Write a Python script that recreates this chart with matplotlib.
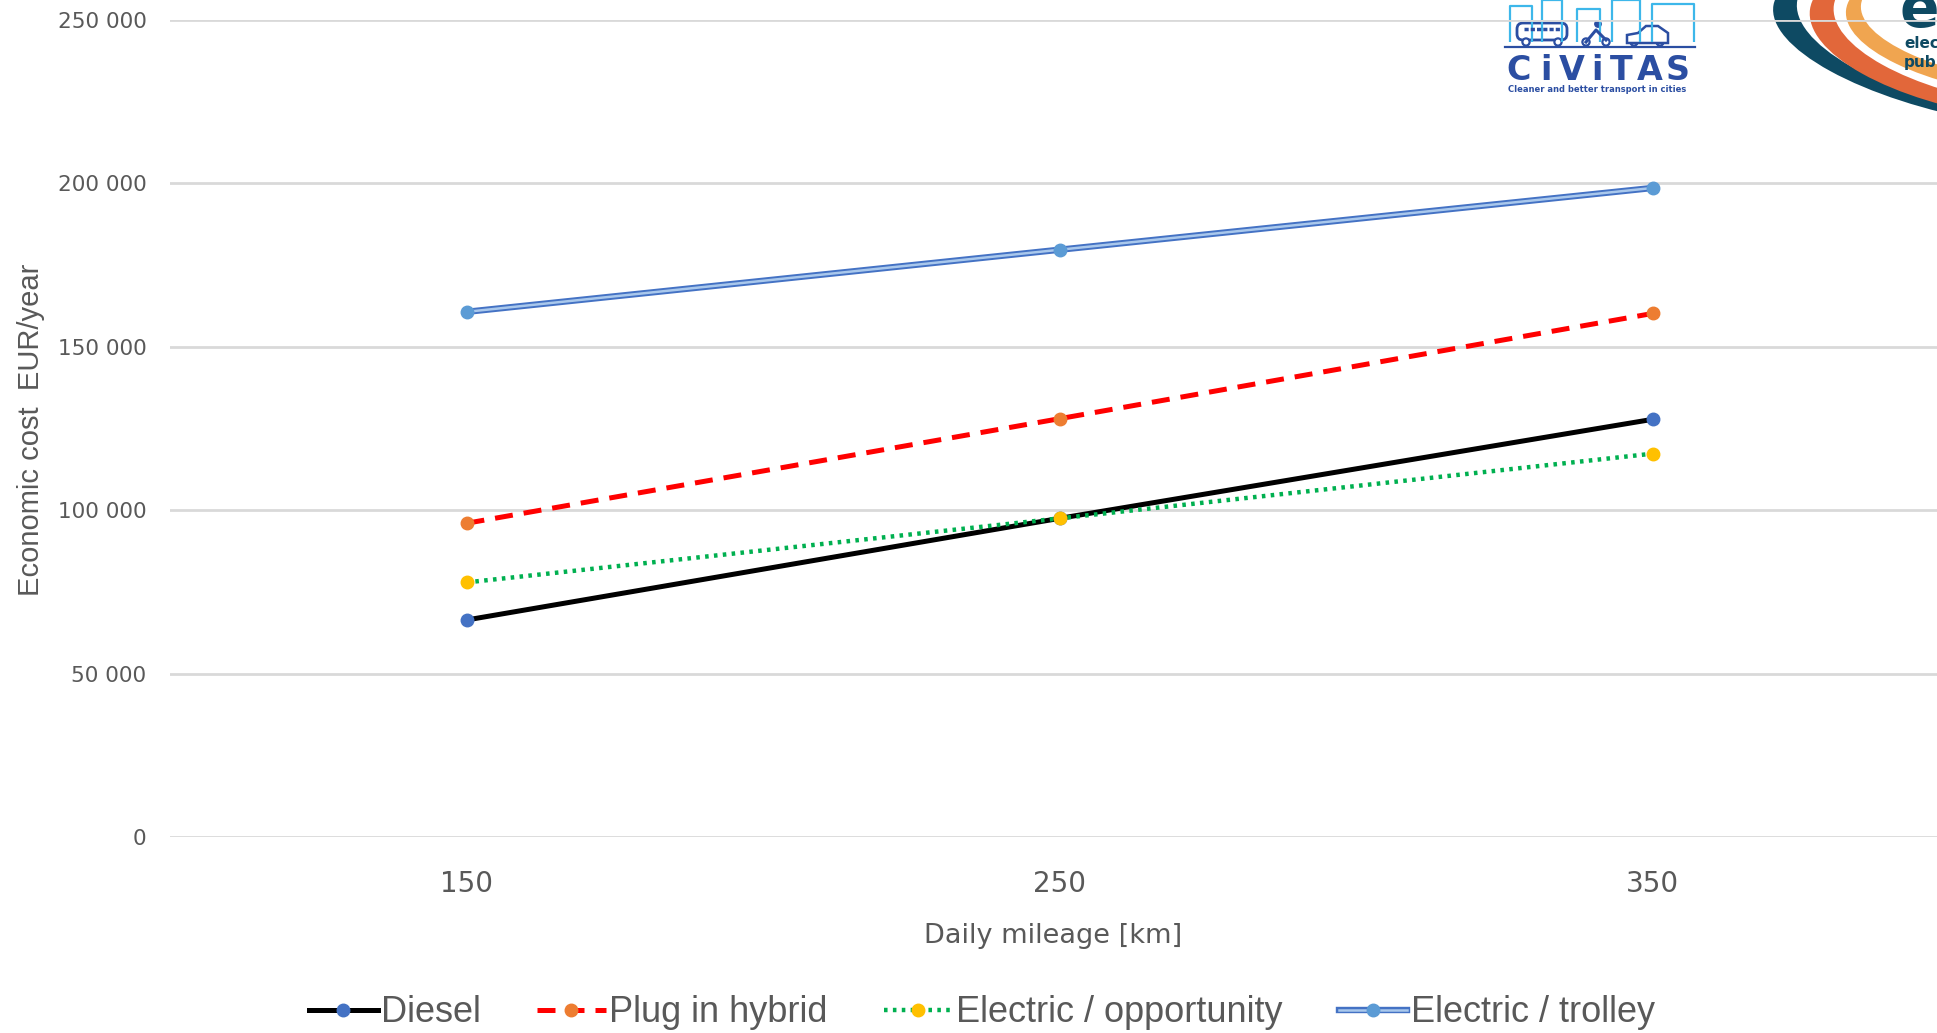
import matplotlib.pyplot as plt
from matplotlib.patches import Ellipse, Circle, FancyBboxPatch
from matplotlib.legend_handler import HandlerTuple

# Daily mileage categories and yearly economic cost per bus type
mileage = ['150', '250', '350']
diesel = [66400, 97500, 127800]
plug_in_hybrid = [96000, 128000, 160200]
electric_opportunity = [77900, 97500, 117300]
electric_trolley = [160700, 179700, 198600]
y_ticks = [0, 50000, 100000, 150000, 200000, 250000]
y_tick_labels = ['0', '50 000', '100 000', '150 000', '200 000', '250 000']

W, H = 1937, 1033
fig = plt.figure(figsize=(W / 100, H / 100), dpi=100)

# background layer in pixel coordinates for the logos
bg = fig.add_axes([0, 0, 1, 1], zorder=0)
bg.set_xlim(0, W)
bg.set_ylim(H, 0)
bg.axis('off')

# CIVITAS logo: skyline, vehicles, name
sky = '#3db7ea'
dark = '#2b4ea2'
for x0, x1, top in [(1510, 1532, 6), (1542, 1562, 0), (1577, 1600, 9), (1612, 1640, 0), (1652, 1694, 4)]:
    bg.plot([x0, x0, x1, x1], [42, top, top, 42], color=sky, lw=1.6, solid_capstyle='butt')
bg.add_patch(FancyBboxPatch((1517, 23), 50, 17, boxstyle='round,pad=0,rounding_size=6',
                            fc='white', ec=dark, lw=2))
bg.plot([1524, 1560], [29, 29], color=dark, lw=2.5, ls=(0, (1.2, 0.6)))
for cx in (1526, 1558, 1586, 1606, 1634, 1660):
    bg.add_patch(Circle((cx, 42), 3.6, fc='white', ec=dark, lw=1.6))
bg.plot([1586, 1596, 1606], [42, 30, 40], color=dark, lw=2.2)
bg.add_patch(Circle((1598, 24), 3.2, color=dark))
bg.fill([1627, 1627, 1638, 1646, 1658, 1668, 1668], [43, 35, 33, 26, 26, 33, 43], fc='white', ec=dark, lw=1.8)
bg.plot([1505, 1695], [47, 47], color=dark, lw=1.6)
for ch, cx in zip('CiViTAS', [1519, 1546, 1572, 1597, 1621, 1650, 1678]):
    bg.text(cx, 70, ch, color=dark, fontsize=24, fontweight='bold',
            ha='center', va='center', family='DejaVu Sans')
bg.text(1597, 90, 'Cleaner and better transport in cities', color=dark, fontsize=6,
        fontweight='bold', ha='center', va='center')

# second logo: nested crescents
crescents = [
    ('#0e4a63', (2000, 45), 230, 78, 10),
    ('white', (2010, 38), 216, 78, 10),
    ('#e2673a', (2015, 38), 207, 80, 8),
    ('white', (2025, 32), 193, 74, 8),
    ('#f0a550', (2035, 30), 190, 68, 6),
    ('white', (2045, 24), 185, 62, 6),
]
for col, c, rx, ry, ang in crescents:
    bg.add_patch(Ellipse(c, 2 * rx, 2 * ry, angle=ang, color=col, lw=0))
bg.text(1899, 10, 'e', color='#0e4a63', fontsize=42, fontweight='bold', va='center', ha='left')
bg.text(1904, 43, 'elec', color='#0e4a63', fontsize=11, fontweight='bold', va='center', ha='left')
bg.text(1904, 62, 'pub', color='#0e4a63', fontsize=11, fontweight='bold', va='center', ha='left')

# main chart
ax = fig.add_axes([170 / W, 1 - 837 / H, 1 - 170 / W, (837 - 20) / H], zorder=1)
ax.set_facecolor('none')
x = list(range(len(mileage)))

ax.plot(x, diesel, color='black', lw=3.6, marker='o', ms=9,
        mfc='#4472c4', mec='#4472c4', label='Diesel', zorder=3)
ax.plot(x, plug_in_hybrid, color='#ff0000', lw=3.6, ls=(0, (3.6, 2.2)), marker='o', ms=9,
        mfc='#ed7d31', mec='#ed7d31', label='Plug in hybrid', zorder=3)
ax.plot(x, electric_opportunity, color='#00b050', lw=3.2, ls=(0, (0.8, 1.2)), marker='o', ms=9,
        mfc='#ffc000', mec='#ffc000', label='Electric / opportunity', zorder=3)
# trolley line drawn as a double line: dark outline under a light core
trolley_edge, = ax.plot(x, electric_trolley, color='#4472c4', lw=4.6, zorder=3)
trolley_core, = ax.plot(x, electric_trolley, color='#a9c8ec', lw=1.8, marker='o', ms=9,
                        mfc='#5b9bd5', mec='#5b9bd5', zorder=3)

ax.set_xlim(-0.5, -0.5 + (W - 170) / 593)
ax.set_ylim(0, 250000)
ax.set_xticks(x)
ax.set_xticklabels(mileage)
ax.set_yticks(y_ticks)
ax.set_yticklabels(y_tick_labels)
ax.tick_params(axis='y', length=0, pad=17, labelsize=15.5, labelcolor='#595959')
ax.tick_params(axis='x', length=0, pad=24, labelsize=20, labelcolor='#595959')
ax.grid(axis='y', color='#d9d9d9', lw=2)
ax.set_axisbelow(True)
for s in ax.spines.values():
    s.set_visible(False)

ax.set_xlabel('Daily mileage [km]', fontsize=19.5, color='#595959', labelpad=18)
fig.text(31 / W, 1 - 430 / H, 'Economic cost  EUR/year', rotation=90, fontsize=21,
         color='#595959', ha='center', va='center', family='Liberation Sans')

handles, labels = ax.get_legend_handles_labels()
handles.append((trolley_edge, trolley_core))
labels.append('Electric / trolley')
leg = fig.legend(handles, labels, loc='center', bbox_to_anchor=(982 / W, 1 - 1013 / H), ncol=4,
                 frameon=False, handlelength=1.9, handletextpad=0.1, columnspacing=1.55,
                 handler_map={tuple: HandlerTuple(ndivide=1, pad=0)},
                 prop={'family': 'Liberation Sans', 'size': 26})
for t in leg.get_texts():
    t.set_color('#595959')

fig.savefig('out.png', dpi=100)
